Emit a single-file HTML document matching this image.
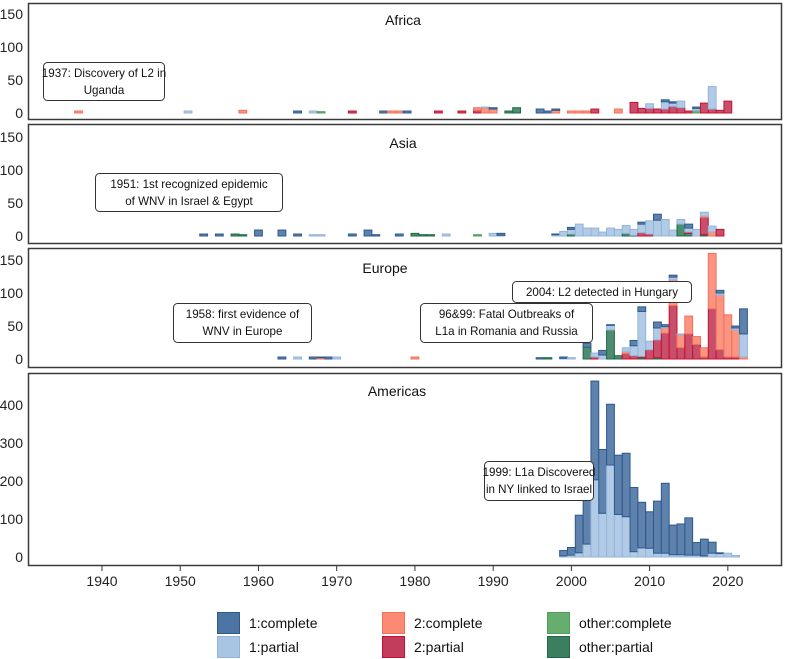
<!DOCTYPE html>
<html><head><meta charset="utf-8">
<style>
body{margin:0;background:#fff;}
svg{display:block;font-family:"Liberation Sans",Arial,sans-serif;}
</style></head>
<body>
<svg id="chart" width="787" height="659" viewBox="0 0 787 659" xmlns="http://www.w3.org/2000/svg"></svg>
<script>
// ---- data ----
const seriesKeys = ["oP","oC","p2","c2","p1","c1"];
const seriesLabels = ["other:partial","other:complete","2:partial","2:complete","1:partial","1:complete"];

const africaYears = [1937,1951,1958,1965,1967,1968,1972,1976,1977,1978,1979,1983,1986,1988,1989,1990,1992,1993,1996,1997,1998,2000,2001,2002,2003,2006,2008,2009,2010,2011,2012,2013,2014,2015,2016,2017,2018,2019,2020];
const africaOP = [0,0,0,0,0,0,0,0,0,0,0,0,0,0,0,0,3,8,0,0,0,0,0,0,0,0,0,0,0,0,0,0,0,0,0,0,0,0,0];
const africaOC = [0,0,0,0,0,2,0,0,0,0,0,0,0,0,0,0,0,0,0,0,0,0,0,0,0,0,0,0,0,0,0,0,0,0,4,0,0,0,0];
const africaP2 = [0,0,0,0,0,0,3,0,0,0,0,3,3,4,0,0,0,0,0,0,0,0,0,0,6,0,16,7,7,6,6,10,8,3,0,15,6,4,18];
const africaC2 = [3,0,4,0,0,0,0,0,3,3,0,0,0,4,8,6,0,0,0,0,4,3,3,3,0,6,0,0,0,0,0,0,0,0,0,0,0,0,0];
const africaP1 = [0,3,0,0,3,0,0,0,0,0,0,0,0,0,1,0,0,0,0,0,0,0,0,0,0,0,0,0,7,0,11,5,10,0,3,0,34,0,0];
const africaC1 = [0,0,0,3,0,0,0,3,0,0,3,0,0,0,0,2,0,0,6,3,2,0,0,0,0,0,0,0,0,0,3,2,0,0,2,0,0,0,0];

const asiaYears = [1953,1955,1957,1958,1960,1963,1965,1967,1968,1972,1974,1975,1978,1980,1981,1982,1984,1988,1990,1991,1998,1999,2000,2001,2002,2003,2004,2005,2006,2007,2008,2009,2010,2011,2012,2013,2014,2015,2016,2017,2018,2019];
const asiaOP = [0,0,3,2,0,0,0,0,0,0,0,0,0,4,2,2,0,0,0,0,0,0,3,0,0,0,0,0,0,4,1,0,0,0,0,0,18,4,0,2,0,0];
const asiaOC = [0,0,0,0,0,0,0,0,0,0,0,0,0,0,0,0,0,2,0,0,0,0,0,0,0,0,0,0,0,0,0,0,0,0,0,0,0,0,0,0,0,0];
const asiaP2 = [0,0,0,0,0,0,0,0,0,0,0,0,0,0,0,0,0,0,0,0,0,0,0,0,0,0,0,0,0,0,0,5,3,0,0,0,0,2,0,26,0,10];
const asiaC2 = [0,0,0,0,0,0,0,0,0,0,0,0,0,0,0,0,0,0,0,0,0,0,0,0,0,0,0,0,0,0,0,0,0,0,0,0,0,0,0,2,6,0];
const asiaP1 = [0,0,0,0,0,0,0,2,2,0,0,0,0,0,0,0,3,0,4,1,2,7,7,18,12,12,6,12,10,12,9,13,20,24,25,9,7,6,10,6,9,0];
const asiaC1 = [3,3,0,0,9,9,3,0,0,3,9,2,3,0,0,0,0,0,0,3,1,0,3,0,0,0,0,0,0,0,0,3,0,9,0,0,0,6,0,0,0,0];

const europeYears = [1963,1965,1967,1968,1969,1970,1980,1996,1997,1999,2000,2002,2003,2004,2005,2006,2007,2008,2009,2010,2011,2012,2013,2014,2015,2016,2017,2018,2019,2020,2021,2022];
const europeOP = [0,0,0,0,0,0,0,0,2,0,0,18,0,0,44,5,0,0,2,0,2,0,0,0,0,0,0,0,0,0,0,0];
const europeOC = [0,0,0,0,0,0,0,0,0,0,0,0,0,0,0,0,0,0,0,0,0,0,0,0,0,0,0,0,0,0,0,0];
const europeP2 = [0,0,0,0,0,0,0,0,0,0,0,0,3,0,0,0,8,5,2,14,27,39,81,17,38,22,3,76,14,3,3,0];
const europeC2 = [0,0,0,2,0,0,3,0,0,0,0,0,0,0,0,0,3,0,0,0,0,8,39,20,27,12,14,84,83,64,41,3];
const europeP1 = [0,3,0,0,0,3,0,0,0,1,2,0,6,6,7,0,6,15,68,13,18,2,4,1,0,0,0,0,3,0,3,35];
const europeC1 = [3,0,3,1,3,0,0,2,0,2,0,6,0,7,1,0,0,8,7,0,9,3,3,0,0,0,0,0,4,0,3,38];

const americasYears = [1999,2000,2001,2002,2003,2004,2005,2006,2007,2008,2009,2010,2011,2012,2013,2014,2015,2016,2017,2018,2019,2020,2021];
const americasP1 = [3,5,11,34,203,115,242,112,106,14,24,23,10,10,6,6,5,5,3,10,9,10,4];
const americasC1 = [14,20,99,122,260,168,160,156,167,169,120,96,137,184,78,81,98,33,44,29,2,0,0];

const xTicks = [1940,1950,1960,1970,1980,1990,2000,2010,2020];
const smallTicks = [0,50,100,150];
const bigTicks = [0,100,200,300,400];

// ---- layout ----
const NS = "http://www.w3.org/2000/svg";
const svg = document.getElementById("chart");
const X0 = 102, PXY = 7.823, BW = 7.823;
function xScale(y){ return X0 + (y-1940)*PXY; }
const FILL = {c1:"#4d74a2",p1:"#a9c5e4",c2:"#fa8a74",p2:"#c23c5c",oC:"#68ad70",oP:"#3b7f60"};
const STROKE = {c1:"#2c5a8e",p1:"#93b4da",c2:"#f4705a",p2:"#c8102e",oC:"#4f9f5a",oP:"#1e6b45"};

function mk(tag, attrs){ const e=document.createElementNS(NS,tag); for(const k in attrs) e.setAttribute(k,attrs[k]); return e; }

const panels = [
 {name:"Africa", top:3, bottom:119, y0:113, k:0.66, ticks:smallTicks, tx:403, ty:25, years:africaYears,
  s:{oP:africaOP,oC:africaOC,p2:africaP2,c2:africaC2,p1:africaP1,c1:africaC1}},
 {name:"Asia", top:124, bottom:243, y0:236, k:0.66, ticks:smallTicks, tx:403, ty:148, years:asiaYears,
  s:{oP:asiaOP,oC:asiaOC,p2:asiaP2,c2:asiaC2,p1:asiaP1,c1:asiaC1}},
 {name:"Europe", top:248, bottom:367, y0:359, k:0.66, ticks:smallTicks, tx:385, ty:273, years:europeYears,
  s:{oP:europeOP,oC:europeOC,p2:europeP2,c2:europeC2,p1:europeP1,c1:europeC1}},
 {name:"Americas", top:373, bottom:565, y0:557, k:0.38, ticks:bigTicks, tx:397, ty:396, years:americasYears,
  s:{p1:americasP1,c1:americasC1}}
];

panels.forEach(p=>{
  const g = mk("g",{});
  
  
  svg.appendChild(g);
  const frame = mk("rect",{x:28.5,y:p.top+0.5,width:753,height:p.bottom-p.top,fill:"#fff",stroke:"#3a3a3a","stroke-width":1.5});
  
  
  g.appendChild(frame);
  p.ticks.forEach(t=>{
    const tl = mk("text",{x:23,y:p.y0-t*p.k+5,"text-anchor":"end","font-size":14,fill:"#222"});
    tl.textContent = t;
    
    
    g.appendChild(tl);
  });
  const title = mk("text",{x:p.tx,y:p.ty,"text-anchor":"middle","font-size":14,fill:"#111"});
  title.textContent = p.name;
  
  
  g.appendChild(title);
  p.years.forEach((yr,i)=>{
    let cum = 0;
    seriesKeys.forEach(key=>{
      const arr = p.s[key]; if(!arr) return;
      const v = arr[i]; if(!v) return;
      const yTop = p.y0 - (cum+v)*p.k, h = v*p.k;
      const r = mk("rect",{x:xScale(yr)-BW/2,y:yTop,width:BW,height:h,fill:FILL[key],stroke:STROKE[key],"stroke-width":1,"fill-opacity":0.9});
      
      
      g.appendChild(r);
      cum += v;
    });
  });
});

// x axis
xTicks.forEach(t=>{
  const x = xScale(t);
  const tk = mk("line",{x1:x,x2:x,y1:566,y2:571,stroke:"#333","stroke-width":1});
  
  
  svg.appendChild(tk);
  const tl = mk("text",{x:x,y:586,"text-anchor":"middle","font-size":14,fill:"#222"});
  tl.textContent = t;
  
  
  svg.appendChild(tl);
});

// annotations
const notes = [
 {x:43,y:62,w:121,h:38,l:["1937: Discovery of L2 in","Uganda"]},
 {x:95,y:173,w:187,h:38,l:["1951: 1st recognized epidemic","of WNV in Israel & Egypt"]},
 {x:173,y:303,w:138,h:39,l:["1958: first evidence of","WNV in Europe"]},
 {x:420,y:303,w:172,h:39,l:["96&99: Fatal Outbreaks of","L1a in Romania and Russia"]},
 {x:512,y:281,w:179,h:21,l:["2004: L2 detected in Hungary"]},
 {x:484,y:461,w:109,h:39,l:["1999: L1a Discovered","in NY linked to Israel"]}
];
notes.forEach(n=>{
  const g = mk("g",{});
  
  
  g.appendChild(mk("rect",{x:n.x+0.5,y:n.y+0.5,width:n.w,height:n.h,rx:4,fill:"#fff",stroke:"#333","stroke-width":1}));
  n.l.forEach((s,i)=>{
    const t = mk("text",{x:n.x+n.w/2+0.5,y:n.y+(n.l.length===1?15:15+i*17),"text-anchor":"middle","font-size":11.6,fill:"#111"});
    t.textContent = s;
    g.appendChild(t);
  });
  svg.appendChild(g);
});

// legend
const legend = [
 {k:"c1",x:217,y:612,t:"1:complete"},{k:"p1",x:217,y:636,t:"1:partial"},
 {k:"c2",x:382,y:612,t:"2:complete"},{k:"p2",x:382,y:636,t:"2:partial"},
 {k:"oC",x:547,y:612,t:"other:complete"},{k:"oP",x:547,y:636,t:"other:partial"}
];
legend.forEach(e=>{
  const g = mk("g",{});
  
  
  g.appendChild(mk("rect",{x:e.x+0.5,y:e.y+0.5,width:22,height:21,fill:FILL[e.k],stroke:STROKE[e.k],"stroke-width":1}));
  const t = mk("text",{x:e.x+32,y:e.y+16,"font-size":14,fill:"#111"});
  t.textContent = e.t;
  g.appendChild(t);
  svg.appendChild(g);
});
</script>
</body></html>
